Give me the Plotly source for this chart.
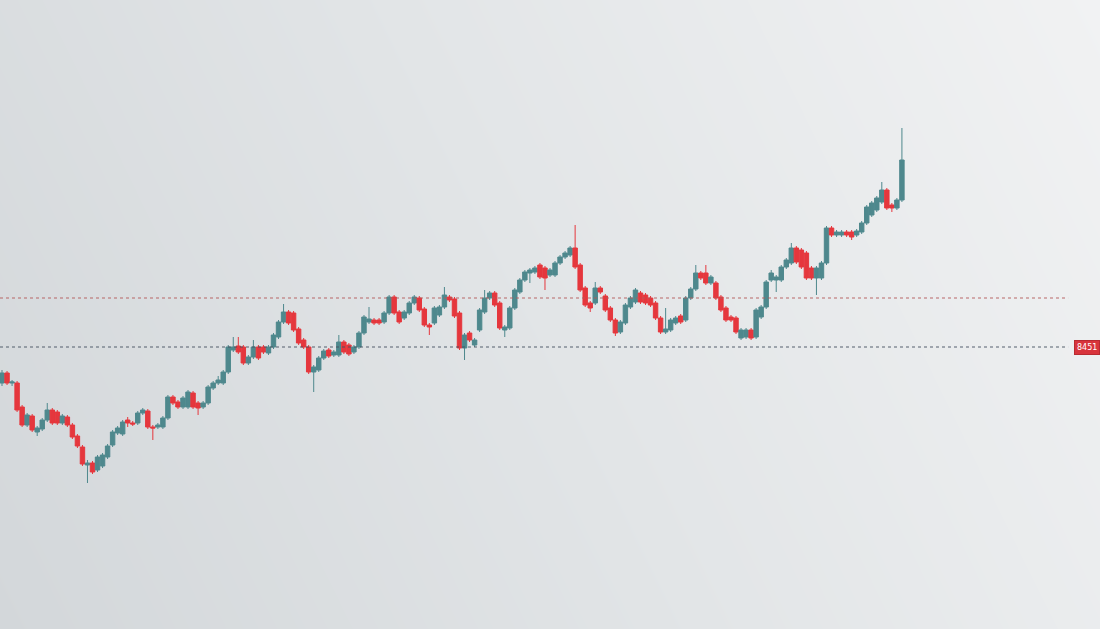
import numpy as np
import plotly.graph_objects as go

# ---- data ----
day = list(range(180))

open_ = [417,427,417,417,393,375,384,368,371,380,390,388,377,383,375,364,353,335,337,330,
         334,343,355,367,366,380,377,377,387,389,373,373,373,382,403,398,393,393,407,397,
         393,397,412,417,417,428,450,454,453,437,443,453,453,447,453,463,478,488,487,471,
         460,453,428,430,442,450,445,445,458,455,448,453,467,478,480,480,478,487,503,488,
         482,487,497,502,491,475,477,485,493,503,501,487,452,467,455,470,488,502,507,497,
         470,472,492,508,520,527,528,535,532,525,525,537,543,545,552,535,512,497,497,512,
         504,492,480,468,477,493,498,507,505,502,497,482,468,470,477,484,480,502,511,527,
         527,517,517,503,492,483,482,462,463,470,463,483,493,520,520,520,533,537,552,550,
         547,532,522,522,537,572,565,565,568,568,565,568,577,585,590,598,610,595,592,600]
high = [430,429,420,419,395,387,386,374,382,397,392,390,386,385,377,366,355,340,339,345,
        347,356,370,374,380,383,379,389,392,391,375,377,384,405,405,400,404,410,409,399,
        399,415,419,424,430,455,463,463,455,445,460,455,455,455,467,480,496,490,489,473,
        462,455,435,444,451,452,450,465,460,457,455,469,485,493,482,482,489,505,505,490,
        490,499,505,504,493,477,494,495,513,505,503,489,467,469,462,492,510,509,509,499,
        475,494,512,522,530,532,534,537,534,532,539,545,549,554,575,537,514,499,518,514,
        506,494,482,480,497,504,512,509,507,504,499,484,492,482,484,486,504,513,535,529,
        535,525,519,505,494,485,484,472,472,472,492,495,520,530,525,535,542,557,554,552,
        549,534,534,539,574,574,570,570,570,570,571,579,595,599,604,618,612,597,602,672]
low = [414,415,414,388,373,373,368,364,369,378,375,375,375,373,361,352,334,317,326,328,
       332,341,353,365,364,373,374,375,385,371,360,371,371,380,395,391,391,391,391,385,
       391,395,410,415,415,426,448,446,435,435,441,440,446,445,451,461,476,475,468,455,
       451,426,408,428,440,442,443,443,446,444,446,451,465,476,475,475,476,485,485,476,
       480,485,495,488,473,465,475,483,491,498,482,450,440,458,453,468,486,500,493,470,
       463,470,490,506,518,517,526,521,510,523,523,535,541,543,531,508,493,488,495,506,
       488,478,464,466,475,491,496,496,495,493,480,466,466,468,475,476,478,500,509,520,
       515,515,500,488,478,478,466,460,461,460,461,481,491,518,508,518,531,535,536,531,
       520,520,505,520,535,563,563,563,563,560,563,566,575,583,588,596,590,588,590,598]
close = [427,417,418,390,375,385,370,372,380,390,377,377,384,375,363,354,336,337,328,343,
         345,354,368,372,378,377,376,387,390,373,372,375,382,403,397,393,402,408,393,392,
         397,413,417,420,428,453,453,448,437,443,453,442,448,453,465,478,488,477,470,457,
         453,428,433,442,449,444,448,458,448,446,453,467,483,481,477,477,487,503,487,478,
         488,497,503,490,475,473,492,493,505,500,484,452,465,460,460,490,502,507,495,472,
         473,492,510,520,528,530,532,523,522,530,537,543,547,552,533,510,495,492,512,508,
         490,480,467,478,495,502,510,498,497,495,482,468,471,480,482,478,502,511,527,522,
         517,523,502,490,480,480,468,470,470,462,490,493,518,527,523,533,540,552,538,533,
         522,522,532,537,572,565,568,568,565,563,569,577,593,597,602,610,592,592,600,640]

support_level = 453
resistance_level = 502
price_tag = "8451"

# ---- figure ----
fig = go.Figure()

# background gradient (base axes)
gx = np.linspace(0, 1, 24)
gy = np.linspace(0, 1, 16)
GX, GY = np.meshgrid(gx, gy)
Z = 0.78 * GX + 0.22 * GY
fig.add_trace(go.Heatmap(
    x=gx, y=gy, z=Z, zsmooth="best", showscale=False, hoverinfo="skip",
    colorscale=[[0, "#d3d7da"], [0.5, "#e2e5e7"], [1, "#f1f2f3"]],
    xaxis="x", yaxis="y"))

fig.add_trace(go.Candlestick(
    x=day, open=open_, high=high, low=low, close=close,
    increasing=dict(line=dict(color="#4e888d", width=1), fillcolor="#4e888d"),
    decreasing=dict(line=dict(color="#e5373d", width=1), fillcolor="#e5373d"),
    whiskerwidth=0, xaxis="x2", yaxis="y2", showlegend=False))

fig.add_shape(type="line", xref="paper", yref="y2", x0=0, x1=0.971,
              y0=resistance_level, y1=resistance_level,
              line=dict(color="rgba(180,90,90,0.9)", width=1, dash="dot"))
fig.add_shape(type="line", xref="paper", yref="y2", x0=0, x1=0.971,
              y0=support_level, y1=support_level,
              line=dict(color="rgba(70,80,95,0.9)", width=1, dash="dot"))

fig.add_annotation(xref="paper", yref="y2", x=1.0, y=support_level,
                   xanchor="right", yanchor="middle", text=price_tag, showarrow=False,
                   font=dict(family="DejaVu Sans", size=8, color="#ffffff"),
                   bgcolor="#d8343c", bordercolor="#b82a31", borderwidth=1, borderpad=2)

fig.update_layout(
    width=1100, height=629, margin=dict(l=0, r=0, t=0, b=0),
    paper_bgcolor="#e3e6e8", plot_bgcolor="rgba(0,0,0,0)",
    showlegend=False, boxgap=0.12, boxgroupgap=0,
    xaxis=dict(range=[0, 1], visible=False, fixedrange=True),
    yaxis=dict(range=[0, 1], visible=False, fixedrange=True),
    xaxis2=dict(range=[-0.4, 218.4], overlaying="x", visible=False,
                rangeslider=dict(visible=False)),
    yaxis2=dict(range=[171, 800], overlaying="y", visible=False),
)

fig.write_html("out.html", config={"displayModeBar": False},
               post_script="document.body.style.margin='0';document.body.style.overflow='hidden';")
